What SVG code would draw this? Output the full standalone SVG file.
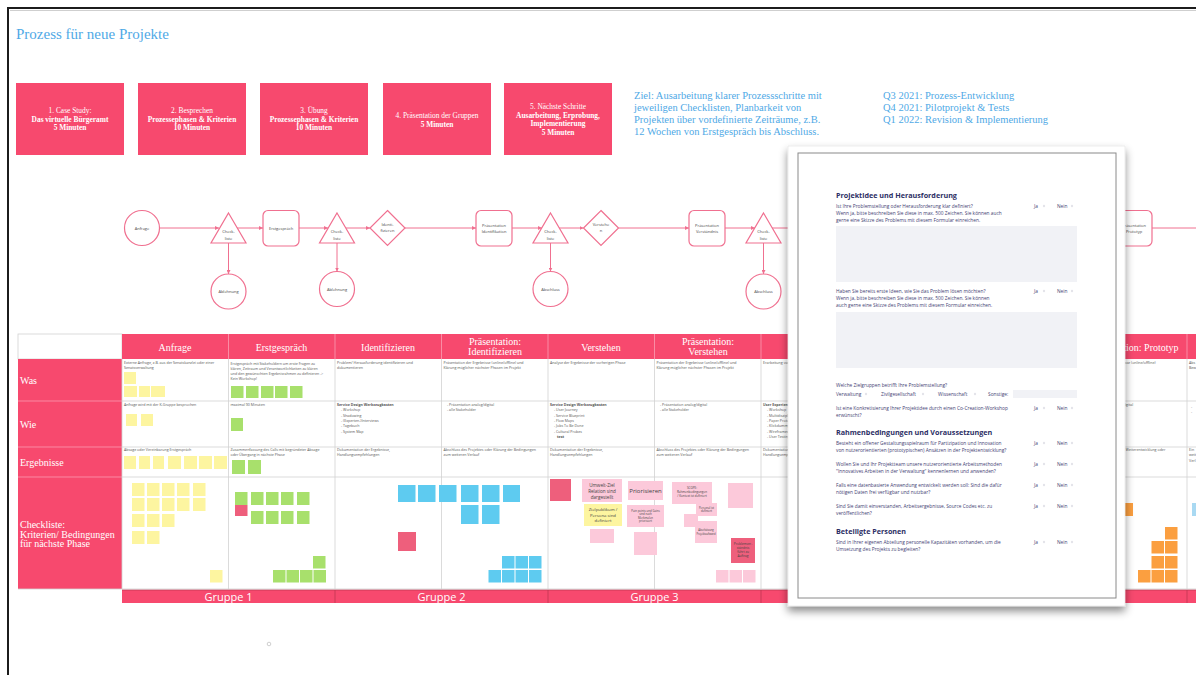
<svg xmlns="http://www.w3.org/2000/svg" width="1196" height="675" viewBox="0 0 1196 675">
<defs>
<style>
.pink{fill:#f7496e}
.slab{font-family:"Liberation Serif",serif}
.hbt{font-family:"Liberation Serif",serif;font-size:7.4px;fill:#fff;text-anchor:middle}
.b{font-weight:bold}
.blue{font-family:"Liberation Serif",serif;fill:#4fa9e6}
.shape{fill:#fff;stroke:#f07090;stroke-width:1.2}
.con{stroke:#f07090;stroke-width:1;fill:none}
.ft{font-family:"Open Sans",sans-serif;font-size:4px;fill:#444;text-anchor:middle}
.tht{font-family:"Liberation Serif",serif;font-size:10px;fill:#fff;text-anchor:middle}
.rl{font-family:"Liberation Serif",serif;font-size:10px;fill:#fff}
.grid{stroke:#d2d2d2;stroke-width:0.8;fill:none}
.ct{font-family:"Open Sans",sans-serif;font-size:3.6px;fill:#555}
.y{fill:#fdf5a0}
.g{fill:#a8e06c}
.bl{fill:#5ecbf0}
.pk{fill:#fcc9da}
.rd{fill:#ee5f7c}
.or{fill:#fb9f40}
.nt{font-family:"Open Sans",sans-serif;fill:#444;text-anchor:middle}
.gr{font-family:"Open Sans",sans-serif;font-size:11px;fill:#fff;text-anchor:middle}
.fx{font-family:"Open Sans",sans-serif;font-size:4.8px;fill:#3f4173}
.fh{font-family:"Open Sans",sans-serif;font-size:7.2px;font-weight:bold;fill:#2c2e64}
.mk{fill:#e4e4ea}
.inp{fill:#f1f2f6}
</style>
<marker id="arr" viewBox="0 0 6 6" refX="6" refY="3" markerWidth="4" markerHeight="4" orient="auto">
<path d="M0,0 L6,3 L0,6 Z" fill="#f07090"/>
</marker>
<filter id="shadow" x="-10%" y="-10%" width="120%" height="125%">
<feDropShadow dx="0" dy="5" stdDeviation="4" flood-color="#000" flood-opacity="0.45"/>
</filter>
</defs>

<rect width="1196" height="675" fill="#fff"/>
<!-- board frame -->
<path d="M8,675 V8 H1196" fill="none" stroke="#1c1c1c" stroke-width="2"/>
<path d="M10,10.5 H1196" stroke="#cfcfcf" stroke-width="1"/>

<text x="16" y="39" class="blue" font-size="15">Prozess für neue Projekte</text>

<!-- agenda boxes -->
<g id="agenda-1">
<rect x="16" y="83" width="108" height="72" class="pink"/>
<text class="hbt" x="70" y="113">1. Case Study:</text>
<text class="hbt b" x="70" y="121.5">Das virtuelle Bürgeramt</text>
<text class="hbt b" x="70" y="130">5 Minuten</text>
</g>
<g id="agenda-2">
<rect x="138" y="83" width="108" height="72" class="pink"/>
<text class="hbt" x="192" y="113">2. Besprechen</text>
<text class="hbt b" x="192" y="121.5">Prozessephasen &amp; Kriterien</text>
<text class="hbt b" x="192" y="130">10 Minuten</text>
</g>
<g id="agenda-3">
<rect x="260" y="83" width="108" height="72" class="pink"/>
<text class="hbt" x="314" y="113">3. Übung</text>
<text class="hbt b" x="314" y="121.5">Prozessephasen &amp; Kriterien</text>
<text class="hbt b" x="314" y="130">10 Minuten</text>
</g>
<g id="agenda-4">
<rect x="383" y="83" width="108" height="72" class="pink"/>
<text class="hbt" x="437" y="118">4. Präsentation der Gruppen</text>
<text class="hbt b" x="437" y="126.5">5 Minuten</text>
</g>
<g id="agenda-5">
<rect x="504" y="83" width="108" height="72" class="pink"/>
<text class="hbt" x="558" y="109">5. Nächste Schritte</text>
<text class="hbt b" x="558" y="117.5">Ausarbeitung, Erprobung,</text>
<text class="hbt b" x="558" y="126">Implementierung</text>
<text class="hbt b" x="558" y="134.5">5 Minuten</text>
</g>

<g id="goal" class="blue" font-size="10.5">
<text x="634" y="98.5">Ziel: Ausarbeitung klarer Prozessschritte mit</text>
<text x="634" y="110.5">jeweiligen Checklisten, Planbarkeit von</text>
<text x="634" y="123">Projekten über vordefinierte Zeiträume, z.B.</text>
<text x="634" y="135">12 Wochen von Erstgespräch bis Abschluss.</text>
</g>
<g id="timeline" class="blue" font-size="10.5">
<text x="883" y="98.5">Q3 2021: Prozess-Entwicklung</text>
<text x="883" y="110.5">Q4 2021: Pilotprojekt &amp; Tests</text>
<text x="883" y="123">Q1 2022: Revision &amp; Implementierung</text>
</g>

<!-- process flow connectors -->
<g id="connectors" class="con">
<path d="M160,228 H219" marker-end="url(#arr)"/>
<path d="M237,228 H263" marker-end="url(#arr)"/>
<path d="M299,228 H328" marker-end="url(#arr)"/>
<path d="M346,228 H370" marker-end="url(#arr)"/>
<path d="M405,228 H476" marker-end="url(#arr)"/>
<path d="M512,228 H542" marker-end="url(#arr)"/>
<path d="M559,228 H583.5" marker-end="url(#arr)"/>
<path d="M618.5,228 H689" marker-end="url(#arr)"/>
<path d="M725,228 H755" marker-end="url(#arr)"/>
<path d="M772,228 H1116" marker-end="url(#arr)"/>
<path d="M1152,228 H1196"/>
<path d="M228.5,243 V274" marker-end="url(#arr)"/>
<path d="M337,243 V271.5" marker-end="url(#arr)"/>
<path d="M550.5,243 V271.5" marker-end="url(#arr)"/>
<path d="M763.5,243 V274" marker-end="url(#arr)"/>
</g>

<!-- process flow nodes -->
<g id="n-anfrage"><circle cx="142" cy="228" r="17.5" class="shape"/><text class="ft" x="142" y="229.5">Anfrage</text></g>
<g id="n-check-1"><path d="M228.5,213 L246,243 L211,243 Z" class="shape"/><text class="ft" x="228.5" y="233">Check-</text><text class="ft" x="228.5" y="240">liste</text></g>
<g id="n-ablehnung-1"><circle cx="228.5" cy="291.5" r="17.5" class="shape"/><text class="ft" x="228.5" y="293">Ablehnung</text></g>
<g id="n-erstgespraech"><rect x="263" y="210.5" width="36" height="35.5" rx="5" class="shape"/><text class="ft" x="281" y="229.5">Erstgespräch</text></g>
<g id="n-check-2"><path d="M337,213 L354.5,243 L319.5,243 Z" class="shape"/><text class="ft" x="337" y="233">Check-</text><text class="ft" x="337" y="240">liste</text></g>
<g id="n-ablehnung-2"><circle cx="337" cy="289" r="17.5" class="shape"/><text class="ft" x="337" y="290.5">Ablehnung</text></g>
<g id="n-identifizieren"><path d="M387.5,210.5 L405,228 L387.5,245.5 L370,228 Z" class="shape"/><text class="ft" x="387.5" y="226" font-size="3.4">Identi-</text><text class="ft" x="387.5" y="231.5" font-size="3.4">fizieren</text></g>
<g id="n-praes-ident"><rect x="476" y="210.5" width="36" height="35.5" rx="5" class="shape"/><text class="ft" x="494" y="226.5">Präsentation</text><text class="ft" x="494" y="232.5">Identifikation</text></g>
<g id="n-check-3"><path d="M550.5,213 L568,243 L533,243 Z" class="shape"/><text class="ft" x="550.5" y="233">Check-</text><text class="ft" x="550.5" y="240">liste</text></g>
<g id="n-abschluss-1"><circle cx="550.5" cy="289" r="17.5" class="shape"/><text class="ft" x="550.5" y="290.5">Abschluss</text></g>
<g id="n-verstehen"><path d="M601,210.5 L618.5,228 L601,245.5 L583.5,228 Z" class="shape"/><text class="ft" x="601" y="226" font-size="3.4">Verstehe</text><text class="ft" x="601" y="231.5" font-size="3.4">n</text></g>
<g id="n-praes-verst"><rect x="689" y="210.5" width="36" height="35.5" rx="5" class="shape"/><text class="ft" x="707" y="226.5">Präsentation</text><text class="ft" x="707" y="232.5">Verständnis</text></g>
<g id="n-check-4"><path d="M763.5,213 L781,243 L746,243 Z" class="shape"/><text class="ft" x="763.5" y="233">Check-</text><text class="ft" x="763.5" y="240">liste</text></g>
<g id="n-abschluss-2"><circle cx="763.5" cy="291.5" r="17.5" class="shape"/><text class="ft" x="763.5" y="293">Abschluss</text></g>
<g id="n-praes-proto"><rect x="1116" y="210.5" width="36" height="35.5" rx="5" class="shape"/><text class="ft" x="1134" y="226.5">Präsentation</text><text class="ft" x="1134" y="232.5">Prototyp</text></g>

<!-- phase table -->
<g id="table">
<rect x="18" y="334" width="104" height="25" fill="#fff" stroke="#d2d2d2" stroke-width="0.8"/>
<rect x="122" y="334" width="1074" height="25" class="pink"/>
<path d="M228.5,334 V359 M335,334 V359 M441.5,334 V359 M548,334 V359 M654.5,334 V359 M761,334 V359 M867.5,334 V359 M974,334 V359 M1080.5,334 V359 M1187,334 V359" stroke="#fa9db2" stroke-width="0.8"/>
<rect x="18" y="359" width="104" height="230" class="pink"/>
<path d="M18,401 H122 M18,447 H122 M18,477 H122" stroke="#fb9ab0" stroke-width="0.8"/>
<path class="grid" d="M122,359 V589 M228.5,359 V589 M335,359 V589 M441.5,359 V589 M548,359 V589 M654.5,359 V589 M761,359 V589 M867.5,359 V589 M974,359 V589 M1080.5,359 V589 M1187,359 V589 M122,401 H1196 M122,447 H1196 M122,477 H1196 M18,589 H1196"/>

<text class="tht" x="175" y="350.5">Anfrage</text>
<text class="tht" x="281.5" y="350.5">Erstgespräch</text>
<text class="tht" x="388" y="350.5">Identifizieren</text>
<text class="tht" x="495" y="345">Präsentation:</text>
<text class="tht" x="495" y="355">Identifizieren</text>
<text class="tht" x="601" y="350.5">Verstehen</text>
<text class="tht" x="708" y="345">Präsentation:</text>
<text class="tht" x="708" y="355">Verstehen</text>
<text class="tht" x="1134" y="350.5">Präsentation: Prototyp</text>

<text class="rl" x="20" y="383.5">Was</text>
<text class="rl" x="20" y="427.5">Wie</text>
<text class="rl" x="20" y="465.5">Ergebnisse</text>
<text class="rl" x="20" y="528">Checkliste:</text>
<text class="rl" x="20" y="537.5">Kriterien/ Bedingungen</text>
<text class="rl" x="20" y="547">für nächste Phase</text>

<!-- Was -->
<text class="ct" x="124" y="364">Externe Anfrage, z.B. aus der Senatskanzlei oder einer</text>
<text class="ct" x="124" y="369.3">Senatsverwaltung</text>
<text class="ct" x="230.5" y="364.5">Erstgespräch mit Stakeholdern um erste Fragen zu</text>
<text class="ct" x="230.5" y="369.8">klären, Zeitraum und Verantwortlichkeiten zu klären</text>
<text class="ct" x="230.5" y="375.1">und den gewünschten Ergebnisrahmen zu definieren -&gt;</text>
<text class="ct" x="230.5" y="380.4">Kein Workshop!</text>
<text class="ct" x="337" y="364">Problem/ Herausforderung identifizieren und</text>
<text class="ct" x="337" y="369.3">dokumentieren</text>
<text class="ct" x="443.5" y="364">Präsentation der Ergebnisse (online/offline) und</text>
<text class="ct" x="443.5" y="369.3">Klärung möglicher nächster Phasen im Projekt</text>
<text class="ct" x="550" y="364">Analyse der Ergebnisse der vorherigen Phase</text>
<text class="ct" x="656.5" y="364">Präsentation der Ergebnisse (online/offline) und</text>
<text class="ct" x="656.5" y="369.3">Klärung möglicher nächster Phasen im Projekt</text>
<text class="ct" x="763" y="364">Erarbeitung von</text>
<text class="ct" x="1083" y="364">Präsentation der Ergebnisse (online/offline)</text>
<text class="ct" x="1189" y="364">Abs</text>
<text class="ct" x="1189" y="369.3">Bew</text>

<!-- Wie -->
<text class="ct" x="124" y="406">Anfrage wird mit der K-Gruppe besprochen</text>
<text class="ct" x="230.5" y="406">maximal 90 Minuten</text>
<text class="ct" x="337" y="406" font-weight="bold">Service Design Werkzeugkasten</text>
<text class="ct" x="341" y="411.3">-  Workshop</text>
<text class="ct" x="341" y="416.6">-  Shadowing</text>
<text class="ct" x="341" y="421.9">-  (Experten-)Interviews</text>
<text class="ct" x="341" y="427.2">-  Tagebuch</text>
<text class="ct" x="341" y="432.5">-  System Map</text>
<text class="ct" x="447" y="406">-  Präsentation analog/digital</text>
<text class="ct" x="447" y="411.3">-  alle Stakeholder</text>
<text class="ct" x="550" y="406" font-weight="bold">Service Design Werkzeugkasten</text>
<text class="ct" x="554" y="411.3">-  User Journey</text>
<text class="ct" x="554" y="416.6">-  Service Blueprint</text>
<text class="ct" x="554" y="421.9">-  Flow Maps</text>
<text class="ct" x="554" y="427.2">-  Jobs To Be Done</text>
<text class="ct" x="554" y="432.5">-  Cultural Probes</text>
<text class="ct" x="557" y="437.8" font-weight="bold">test</text>
<text class="ct" x="660" y="406">-  Präsentation analog/digital</text>
<text class="ct" x="660" y="411.3">-  alle Stakeholder</text>
<text class="ct" x="763" y="406" font-weight="bold">User Experience</text>
<text class="ct" x="767" y="411.3">-  Workshop</text>
<text class="ct" x="767" y="416.6">-  Multidisziplinär</text>
<text class="ct" x="767" y="421.9">-  Paper Prototyping</text>
<text class="ct" x="767" y="427.2">-  Klickdummy</text>
<text class="ct" x="767" y="432.5">-  Wireframes</text>
<text class="ct" x="767" y="437.8">-  User Testing</text>
<text class="ct" x="1086" y="406">-  Präsentation analog/digital</text>
<text class="ct" x="1191" y="408">-</text>
<text class="ct" x="1191" y="413.3">-</text>

<!-- Ergebnisse -->
<text class="ct" x="124" y="451">Absage oder Vereinbarung Erstgespräch</text>
<text class="ct" x="230.5" y="451">Zusammenfassung des Calls mit begründeter Absage</text>
<text class="ct" x="230.5" y="456.3">oder Übergang in nächste Phase</text>
<text class="ct" x="337" y="451">Dokumentation der Ergebnisse,</text>
<text class="ct" x="337" y="456.3">Handlungsempfehlungen</text>
<text class="ct" x="443.5" y="451">Abschluss des Projektes oder Klärung der Bedingungen</text>
<text class="ct" x="443.5" y="456.3">zum weiteren Verlauf</text>
<text class="ct" x="550" y="451">Dokumentation der Ergebnisse,</text>
<text class="ct" x="550" y="456.3">Handlungsempfehlungen</text>
<text class="ct" x="656.5" y="451">Abschluss des Projektes oder Klärung der Bedingungen</text>
<text class="ct" x="656.5" y="456.3">zum weiteren Verlauf</text>
<text class="ct" x="763" y="451">Dokumentation der Ergebnisse,</text>
<text class="ct" x="763" y="456.3">Handlungsempfehlungen</text>
<text class="ct" x="1083" y="451">Abschluss oder mögliche Weiterentwicklung oder</text>
<text class="ct" x="1189" y="451">Ein</text>
<text class="ct" x="1189" y="456.3">weit</text>
<text class="ct" x="1189" y="461.6">Verl</text>
</g>

<!-- sticky notes -->
<g id="notes-gruppe-1">
<rect class="y" x="124" y="372" width="12" height="12"/>
<rect class="y" x="124" y="386" width="13" height="11"/>
<rect class="y" x="139" y="386" width="11" height="11"/>
<rect class="y" x="151" y="386" width="14" height="11"/>
<rect class="g" x="231" y="386" width="12.5" height="12"/>
<rect class="g" x="246" y="386" width="12.5" height="12"/>
<rect class="g" x="261" y="386" width="12.5" height="12"/>
<rect class="g" x="275" y="386" width="12.5" height="12"/>
<rect class="g" x="290" y="386" width="12.5" height="12"/>
<rect class="y" x="126" y="414" width="11" height="12"/>
<rect class="y" x="141" y="414" width="12" height="12"/>
<rect class="g" x="231" y="418" width="12" height="13"/>
<rect class="y" x="124" y="456" width="12" height="13"/>
<rect class="y" x="139" y="456" width="11" height="13"/>
<rect class="y" x="153" y="456" width="11" height="13"/>
<rect class="y" x="168" y="456" width="13" height="13"/>
<rect class="y" x="184" y="456" width="13" height="13"/>
<rect class="y" x="199" y="456" width="13" height="13"/>
<rect class="y" x="214" y="456" width="13" height="13"/>
<rect class="g" x="232" y="460" width="13" height="14"/>
<rect class="g" x="248" y="460" width="13" height="14"/>
<rect class="y" x="132" y="483" width="12.5" height="13"/>
<rect class="y" x="147" y="483" width="12.5" height="13"/>
<rect class="y" x="162" y="483" width="12.5" height="13"/>
<rect class="y" x="177" y="483" width="12.5" height="13"/>
<rect class="y" x="193" y="483" width="12.5" height="13"/>
<rect class="y" x="132" y="498" width="12.5" height="13"/>
<rect class="y" x="147" y="498" width="12.5" height="13"/>
<rect class="y" x="162" y="498" width="12.5" height="13"/>
<rect class="y" x="177" y="498" width="12.5" height="13"/>
<rect class="y" x="193" y="498" width="12.5" height="13"/>
<rect class="y" x="132" y="514" width="12.5" height="13"/>
<rect class="y" x="147" y="514" width="12.5" height="13"/>
<rect class="y" x="162" y="514" width="12.5" height="13"/>
<rect class="y" x="132" y="531" width="12.5" height="13"/>
<rect class="y" x="147" y="531" width="12.5" height="13"/>
<rect class="y" x="210" y="570" width="12.5" height="12.5"/>
<rect class="g" x="235" y="492" width="12.5" height="13"/>
<rect class="g" x="251" y="492" width="12.5" height="13"/>
<rect class="g" x="266" y="492" width="12.5" height="13"/>
<rect class="g" x="281" y="492" width="12.5" height="13"/>
<rect class="g" x="297" y="492" width="12.5" height="13"/>
<rect class="rd" x="235" y="505" width="12.5" height="11"/>
<rect class="g" x="251" y="511" width="12.5" height="13"/>
<rect class="g" x="266" y="511" width="12.5" height="13"/>
<rect class="g" x="281" y="511" width="12.5" height="13"/>
<rect class="g" x="297" y="511" width="12.5" height="13"/>
<rect class="g" x="313" y="556" width="12.5" height="12.5"/>
<rect class="g" x="273" y="570" width="12.5" height="12.5"/>
<rect class="g" x="286.5" y="570" width="12.5" height="12.5"/>
<rect class="g" x="300" y="570" width="12.5" height="12.5"/>
<rect class="g" x="313.5" y="570" width="12.5" height="12.5"/>
</g>

<g id="notes-gruppe-2">
<rect class="bl" x="398" y="485" width="17.5" height="17"/>
<rect class="bl" x="418" y="485" width="17.5" height="17"/>
<rect class="bl" x="439" y="485" width="17.5" height="17"/>
<rect class="bl" x="461" y="485" width="17.5" height="17"/>
<rect class="bl" x="482" y="485" width="17.5" height="17"/>
<rect class="bl" x="503" y="485" width="17" height="17"/>
<rect class="bl" x="461" y="505" width="17.5" height="19"/>
<rect class="bl" x="482" y="505" width="17.5" height="19"/>
<rect class="rd" x="398" y="532" width="18" height="19"/>
<rect class="bl" x="502" y="556" width="12.5" height="12.5"/>
<rect class="bl" x="515.5" y="556" width="12.5" height="12.5"/>
<rect class="bl" x="529" y="556" width="12.5" height="12.5"/>
<rect class="bl" x="488.5" y="570" width="12.5" height="12.5"/>
<rect class="bl" x="502" y="570" width="12.5" height="12.5"/>
<rect class="bl" x="515.5" y="570" width="12.5" height="12.5"/>
<rect class="bl" x="529" y="570" width="12.5" height="12.5"/>
</g>

<g id="notes-gruppe-3">
<rect class="rd" x="550" y="479" width="21" height="22"/>
<rect class="pk" x="582" y="479" width="40" height="23"/>
<text class="nt" font-size="4.6" x="602" y="487">Umwelt-Ziel</text>
<text class="nt" font-size="4.6" x="602" y="493">Relation sind</text>
<text class="nt" font-size="4.6" x="602" y="499">dargestellt</text>
<rect class="pk" x="628" y="481" width="35" height="19"/>
<text class="nt" font-size="6" x="645.5" y="492.5">Priorisieren</text>
<rect class="y" x="584" y="504" width="38" height="22"/>
<text class="nt" font-size="4.3" x="603" y="511">Zielpublikum /</text>
<text class="nt" font-size="4.3" x="603" y="516.5">Persona sind</text>
<text class="nt" font-size="4.3" x="603" y="522">definiert</text>
<rect class="pk" x="590" y="529" width="24" height="14"/>
<rect class="pk" x="627" y="505" width="37" height="22"/>
<text class="nt" font-size="2.8" x="645.5" y="511.5">Pain points und Gains</text>
<text class="nt" font-size="2.8" x="645.5" y="515">sind nach</text>
<text class="nt" font-size="2.8" x="645.5" y="518.5">Merkmalen</text>
<text class="nt" font-size="2.8" x="645.5" y="522">priorisiert</text>
<rect class="pk" x="634" y="532" width="23" height="23"/>
<rect class="pk" x="672" y="482" width="40" height="22"/>
<text class="nt" font-size="3" x="692" y="489">SCOPE:</text>
<text class="nt" font-size="3" x="692" y="493">Rahmenbedingungen</text>
<text class="nt" font-size="3" x="692" y="497">/ Kontext ist definiert</text>
<rect class="pk" x="696" y="503" width="21" height="13"/>
<text class="nt" font-size="2.8" x="706.5" y="508.5">Personal ist</text>
<text class="nt" font-size="2.8" x="706.5" y="512">definiert</text>
<rect class="pk" x="684" y="514" width="14" height="13"/>
<rect class="pk" x="695" y="521" width="22" height="22"/>
<text class="nt" font-size="2.6" x="706" y="531">Abschätzung</text>
<text class="nt" font-size="2.6" x="706" y="534.5">Projektaufwand</text>
<rect class="pk" x="728" y="483" width="25" height="25"/>
<rect class="rd" x="731" y="538" width="24" height="25"/>
<text class="nt" font-size="3.2" x="743" y="545">Problemver-</text>
<text class="nt" font-size="3.2" x="743" y="549">ständnis</text>
<text class="nt" font-size="3.2" x="743" y="553">führt zu</text>
<text class="nt" font-size="3.2" x="743" y="557">Auftrag</text>
<rect class="pk" x="716" y="570" width="12.5" height="12.5"/>
<rect class="pk" x="729.5" y="570" width="12.5" height="12.5"/>
<rect class="pk" x="743" y="570" width="12.5" height="12.5"/>
</g>

<g id="notes-gruppe-5">
<rect class="or" x="1120" y="503" width="13" height="13"/>
<rect class="or" x="1165" y="527" width="12.5" height="12.5"/>
<rect class="or" x="1151.5" y="541" width="12.5" height="12.5"/>
<rect class="or" x="1165" y="541" width="12.5" height="12.5"/>
<rect class="or" x="1151.5" y="556" width="12.5" height="12.5"/>
<rect class="or" x="1165" y="556" width="12.5" height="12.5"/>
<rect class="or" x="1138" y="570" width="12.5" height="12.5"/>
<rect class="or" x="1151.5" y="570" width="12.5" height="12.5"/>
<rect class="or" x="1165" y="570" width="12.5" height="12.5"/>
<rect x="1192" y="503" width="8" height="13" fill="#a9d9f2"/>
</g>

<!-- group bar -->
<g id="groups">
<rect x="122" y="590" width="1074" height="13" class="pink"/>
<path d="M122,590 H1196 M335,590 V603 M548,590 V603 M761,590 V603 M974,590 V603 M1187,590 V603" stroke="#b8334f" stroke-width="0.7"/>
<text class="gr" x="228.5" y="601">Gruppe 1</text>
<text class="gr" x="441.5" y="601">Gruppe 2</text>
<text class="gr" x="654.5" y="601">Gruppe 3</text>
<text class="gr" x="1080.5" y="601">Gruppe 5</text>
</g>
<circle cx="269" cy="644" r="1.8" fill="none" stroke="#b0b0b0" stroke-width="0.6"/>

<!-- questionnaire sheet on top -->
<g id="form">
<rect x="788" y="146" width="337" height="460" fill="#fff" stroke="#e2e2e2" stroke-width="0.6" filter="url(#shadow)"/>
<rect x="798" y="153" width="318" height="445" fill="none" stroke="#8a8a8a" stroke-width="1"/>

<text class="fh" x="836" y="198">Projektidee und Herausforderung</text>
<text class="fx" x="836" y="207.5">Ist Ihre Problemstellung oder Herausforderung klar definiert?</text>
<text class="fx" x="836" y="214.5">Wenn ja, bitte beschreiben Sie diese in max. 500 Zeichen. Sie können auch</text>
<text class="fx" x="836" y="221.5">gerne eine Skizze des Problems mit diesem Formular einreichen.</text>
<rect class="inp" x="836" y="226" width="241" height="56"/>
<text class="fx" x="836" y="292.5">Haben Sie bereits erste Ideen, wie Sie das Problem lösen möchten?</text>
<text class="fx" x="836" y="299.5">Wenn ja, bitte beschreiben Sie diese in max. 500 Zeichen. Sie können</text>
<text class="fx" x="836" y="306.5">auch gerne eine Skizze des Problems mit diesem Formular einreichen.</text>
<rect class="inp" x="836" y="312" width="241" height="56"/>

<text class="fx" x="836" y="386.5">Welche Zielgruppen betrifft Ihre Problemstellung?</text>
<text class="fx" x="836" y="395.5">Verwaltung</text>
<text class="fx" x="881" y="395.5">Zivilgesellschaft</text>
<text class="fx" x="938" y="395.5">Wissenschaft</text>
<text class="fx" x="988" y="395.5">Sonstige:</text>
<circle class="mk" cx="866" cy="394" r="1.2"/>
<circle class="mk" cx="923" cy="394" r="1.2"/>
<circle class="mk" cx="975" cy="394" r="1.2"/>
<rect class="inp" x="1013" y="390" width="64" height="8"/>
<text class="fx" x="836" y="409.5">Ist eine Konkretisierung Ihrer Projektidee durch einen Co-Creation-Workshop</text>
<text class="fx" x="836" y="416.5">erwünscht?</text>

<text class="fh" x="836" y="434.5">Rahmenbedingungen und Voraussetzungen</text>
<text class="fx" x="836" y="444.5">Besteht ein offener Gestaltungsspielraum für Partizipation und Innovation</text>
<text class="fx" x="836" y="452">von nutzerorientierten (prototypischen) Ansätzen in der Projektentwicklung?</text>
<text class="fx" x="836" y="465.5">Wollen Sie und Ihr Projektteam unsere nutzerorientierte Arbeitsmethoden</text>
<text class="fx" x="836" y="473">"Innovatives Arbeiten in der Verwaltung" kennenlernen und anwenden?</text>
<text class="fx" x="836" y="486.5">Falls eine datenbasierte Anwendung entwickelt werden soll: Sind die dafür</text>
<text class="fx" x="836" y="494">nötigen Daten frei verfügbar und nutzbar?</text>
<text class="fx" x="836" y="507.5">Sind Sie damit einverstanden, Arbeitsergebnisse, Source Codes etc. zu</text>
<text class="fx" x="836" y="515">veröffentlichen?</text>

<text class="fh" x="836" y="533.5">Beteiligte Personen</text>
<text class="fx" x="836" y="543.5">Sind in Ihrer eigenen Abteilung personelle Kapazitäten vorhanden, um die</text>
<text class="fx" x="836" y="551">Umsetzung des Projekts zu begleiten?</text>

<g id="form-answers">
<text class="fx" x="1034" y="207.5">Ja</text><text class="fx" x="1057" y="207.5">Nein</text>
<text class="fx" x="1034" y="292.5">Ja</text><text class="fx" x="1057" y="292.5">Nein</text>
<text class="fx" x="1034" y="409.5">Ja</text><text class="fx" x="1057" y="409.5">Nein</text>
<text class="fx" x="1034" y="444.5">Ja</text><text class="fx" x="1057" y="444.5">Nein</text>
<text class="fx" x="1034" y="465.5">Ja</text><text class="fx" x="1057" y="465.5">Nein</text>
<text class="fx" x="1034" y="486.5">Ja</text><text class="fx" x="1057" y="486.5">Nein</text>
<text class="fx" x="1034" y="507.5">Ja</text><text class="fx" x="1057" y="507.5">Nein</text>
<text class="fx" x="1034" y="543.5">Ja</text><text class="fx" x="1057" y="543.5">Nein</text>
<circle class="mk" cx="1044" cy="206" r="1.2"/><circle class="mk" cx="1072" cy="206" r="1.2"/>
<circle class="mk" cx="1044" cy="291" r="1.2"/><circle class="mk" cx="1072" cy="291" r="1.2"/>
<circle class="mk" cx="1044" cy="408" r="1.2"/><circle class="mk" cx="1072" cy="408" r="1.2"/>
<circle class="mk" cx="1044" cy="443" r="1.2"/><circle class="mk" cx="1072" cy="443" r="1.2"/>
<circle class="mk" cx="1044" cy="464" r="1.2"/><circle class="mk" cx="1072" cy="464" r="1.2"/>
<circle class="mk" cx="1044" cy="485" r="1.2"/><circle class="mk" cx="1072" cy="485" r="1.2"/>
<circle class="mk" cx="1044" cy="506" r="1.2"/><circle class="mk" cx="1072" cy="506" r="1.2"/>
<circle class="mk" cx="1044" cy="542" r="1.2"/><circle class="mk" cx="1072" cy="542" r="1.2"/>
</g>
</g>
</svg>
